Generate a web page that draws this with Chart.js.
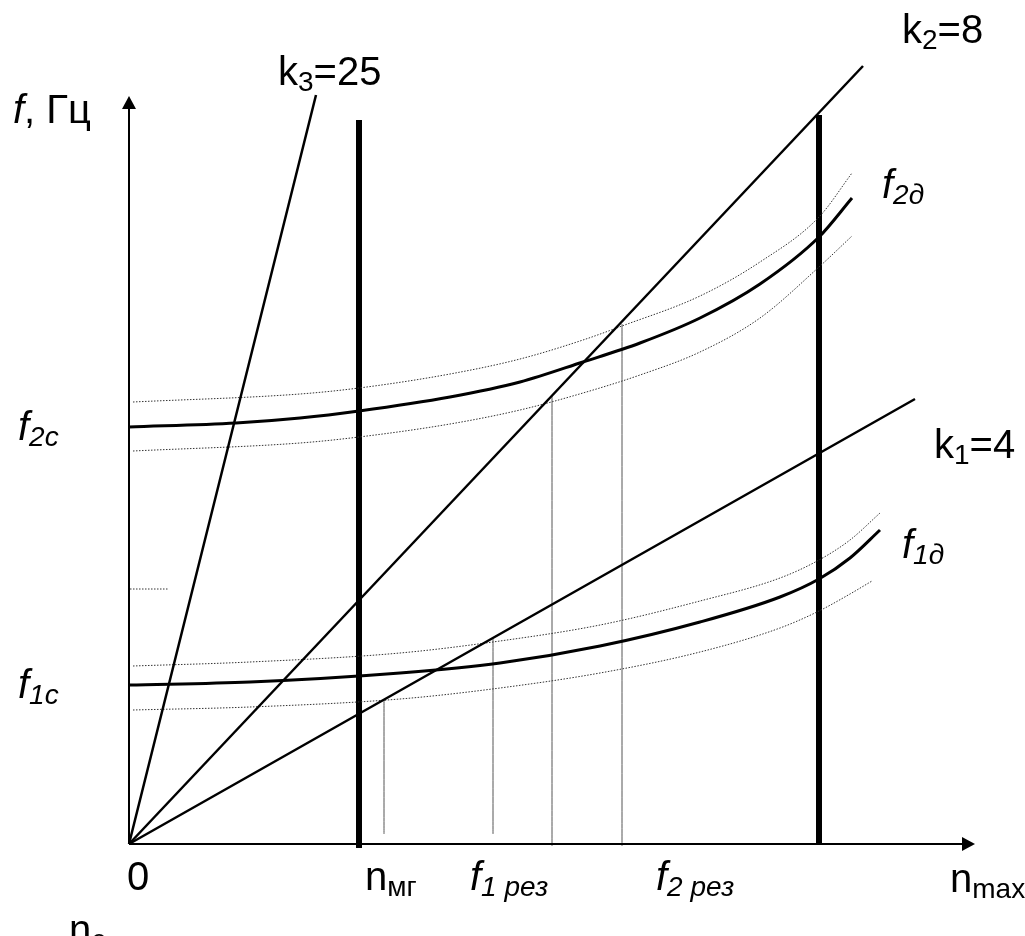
<!DOCTYPE html>
<html>
<head>
<meta charset="utf-8">
<script src="https://cdn.jsdelivr.net/npm/chart.js@4"></script>
<style>
  body { margin: 0; background: #fff; }
</style>
</head>
<body>
<canvas id="chart" width="1025" height="936"></canvas>
<script>
// оси: n (по x) и f (по y), единицы условные
const xMax = 846;
const yMax = 748;

// лучи из нуля k = 25, 8, 4
const k3x = [0, 187], k3y = [0, 749];
const k2x = [0, 734], k2y = [0, 778];
const k1x = [0, 786], k1y = [0, 445];

// f2д и границы разброса
const f2x  = [0, 107, 171, 230, 321, 391, 454, 511, 571, 631, 690, 723];
const f2y  = [417, 421, 426, 433, 447, 462, 482, 501, 526, 560, 607, 646];
const f2ux = [4, 171, 230, 321, 391, 454, 493, 571, 631, 690, 723];
const f2uy = [442, 450, 456, 470, 485, 504, 518, 548, 582, 627, 671];
const f2lx = [4, 171, 230, 321, 391, 454, 511, 571, 631, 690, 723];
const f2ly = [393, 401, 407, 420, 434, 451, 469, 492, 526, 577, 608];

// f1д и границы разброса
const f1x  = [0, 121, 271, 371, 471, 571, 651, 690, 721, 751];
const f1y  = [159, 162, 171, 181, 198, 222, 247, 265, 286, 314];
const f1ux = [4, 121, 271, 371, 471, 571, 651, 690, 721, 751];
const f1uy = [178, 182, 191, 203, 219, 243, 266, 284, 304, 331];
const f1lx = [4, 121, 271, 371, 471, 571, 651, 690, 721, 743];
const f1ly = [134, 137, 145, 156, 171, 192, 216, 233, 250, 263];

// короткий пунктир у оси f
const stubX = [1, 39], stubY = [255, 255];

// жирные вертикали n_мг и справа
const thickX = [230, 690];
const thickY = [[-4, 724], [0, 729]];

// тонкие вертикали (резонансы)
const thinX = [255, 364, 423, 493];
const thinY = [[10, 144], [10, 205], [-2, 448], [-2, 520]];

// подписи: части [текст, флаги], i - курсив, s - индекс
const labelTexts = [
  [['f', 'i'], [', Гц', '']],
  [['k', ''], ['3', 's'], ['=25', '']],
  [['k', ''], ['2', 's'], ['=8', '']],
  [['k', ''], ['1', 's'], ['=4', '']],
  [['f', 'i'], ['2д', 'is']],
  [['f', 'i'], ['1д', 'is']],
  [['f', 'i'], ['2c', 'is']],
  [['f', 'i'], ['1c', 'is']],
  [['0', '']],
  [['n', ''], ['мг', 's']],
  [['f', 'i'], ['1 рез', 'is']],
  [['f', 'i'], ['2 рез', 'is']],
  [['n', ''], ['max', 's']],
  [['n', ''], ['e', 's']]
];
const labelPos = [
  [-116, 721], [149, 759], [773, 801], [805, 386],
  [753, 646], [773, 286], [-111, 404], [-111, 146],
  [-2, -46], [236, -46], [341, -46], [527, -46], [821, -48], [-60, -99]
];

function pts(xs, ys) {
  return xs.map((x, i) => ({ x, y: ys[i] }));
}

function line(data, width, color, dash) {
  return {
    data,
    showLine: true,
    borderColor: color,
    borderWidth: width,
    borderDash: dash || [],
    pointRadius: 0,
    cubicInterpolationMode: 'monotone',
    clip: false
  };
}

const dots = [1.5, 1.5];
const datasets = [
  line(pts(k3x, k3y), 2.5, '#000'),
  line(pts(k2x, k2y), 2.5, '#000'),
  line(pts(k1x, k1y), 2.5, '#000'),
  line(pts(f2x, f2y), 3, '#000'),
  line(pts(f2ux, f2uy), 1, '#333', dots),
  line(pts(f2lx, f2ly), 1, '#333', dots),
  line(pts(f1x, f1y), 3, '#000'),
  line(pts(f1ux, f1uy), 1, '#333', dots),
  line(pts(f1lx, f1ly), 1, '#333', dots),
  line(pts(stubX, stubY), 1, '#333', dots)
];
thickX.forEach((x, i) => datasets.push(line(pts([x, x], thickY[i]), 6, '#000')));
thinX.forEach((x, i) => datasets.push(line(pts([x, x], thinY[i]), 1, '#555')));

function drawRich(ctx, x, y, parts) {
  let cx = x;
  parts.forEach(([text, flags]) => {
    const sub = flags.includes('s');
    ctx.font = (flags.includes('i') ? 'italic ' : '') + (sub ? 28 : 40) + 'px "Liberation Sans", Arial, sans-serif';
    ctx.fillText(text, cx, sub ? y + 6 : y);
    cx += ctx.measureText(text).width;
  });
}

const axesPlugin = {
  id: 'axesArrows',
  afterDatasetsDraw(chart) {
    const ctx = chart.ctx;
    const xs = chart.scales.x, ys = chart.scales.y;
    const x0 = xs.getPixelForValue(0), y0 = ys.getPixelForValue(0);
    const x1 = xs.getPixelForValue(xMax), y1 = ys.getPixelForValue(yMax);
    ctx.save();
    ctx.strokeStyle = '#000';
    ctx.fillStyle = '#000';
    ctx.lineWidth = 2;
    ctx.beginPath();
    ctx.moveTo(x0, y0); ctx.lineTo(x1 - 8, y0);
    ctx.moveTo(x0, y0); ctx.lineTo(x0, y1 + 8);
    ctx.stroke();
    // стрелки
    ctx.beginPath();
    ctx.moveTo(x1, y0); ctx.lineTo(x1 - 13, y0 - 7); ctx.lineTo(x1 - 13, y0 + 7);
    ctx.closePath();
    ctx.fill();
    ctx.beginPath();
    ctx.moveTo(x0, y1); ctx.lineTo(x0 - 7, y1 + 13); ctx.lineTo(x0 + 7, y1 + 13);
    ctx.closePath();
    ctx.fill();

    ctx.textBaseline = 'alphabetic';
    labelTexts.forEach((parts, i) => {
      const [lx, ly] = labelPos[i];
      drawRich(ctx, xs.getPixelForValue(lx), ys.getPixelForValue(ly), parts);
    });
    ctx.restore();
  }
};

const ctx = document.getElementById('chart').getContext('2d');
new Chart(ctx, {
  type: 'scatter',
  data: { datasets },
  options: {
    responsive: false,
    animation: false,
    layout: { padding: { left: 129, right: 50, top: 96, bottom: 92 } },
    scales: {
      x: { type: 'linear', min: 0, max: xMax, display: false },
      y: { type: 'linear', min: 0, max: yMax, display: false }
    },
    plugins: { legend: { display: false }, tooltip: { enabled: false } }
  },
  plugins: [axesPlugin]
});
</script>
</body>
</html>
